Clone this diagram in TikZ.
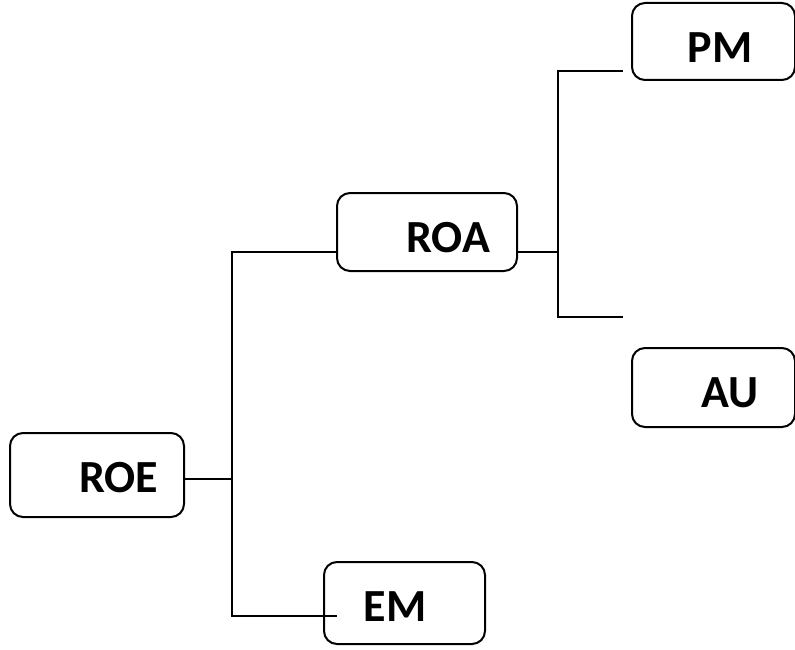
\documentclass[tikz,border=0pt]{standalone}
\usepackage{fontspec}
\setmainfont{Carlito}
\usetikzlibrary{positioning}

\begin{document}
\begin{tikzpicture}[x=1pt, y=-1pt, line width=2pt, box/.style={draw, rounded corners=13pt, inner sep=0pt}, lbl/.style={font=\fontsize{46}{50}\selectfont\bfseries, inner sep=0pt}]
	\useasboundingbox (0,0) rectangle (795,650);
	\draw (97.0, 475.0)node[box, minimum width=174pt, minimum height=84pt, label={[lbl, xshift=21.5pt, yshift=-2.5pt]center:ROE}](roe){};
	\draw (427.0, 232.0)node[box, minimum width=180pt, minimum height=78pt, label={[lbl, xshift=21pt, yshift=-6pt]center:ROA}](roa){};
	\draw (713.5, 41.5)node[box, minimum width=163pt, minimum height=77pt, label={[lbl, xshift=6.5pt, yshift=-6.5pt]center:PM}](pm){};
	\draw (713.5, 387.5)node[box, minimum width=163pt, minimum height=79pt, label={[lbl, xshift=16.5pt, yshift=-5.5pt]center:AU}](au){};
	\draw (404.5, 603.0)node[box, minimum width=161pt, minimum height=82pt, label={[lbl, xshift=-9.5pt, yshift=-4pt]center:EM}](em){};
	% forks
	\coordinate (fork1) at (232, 479);
	\coordinate (fork2) at (558, 252);
	\coordinate (pmEnd) at (623, 71);
	\coordinate (auEnd) at (623, 317);
	\coordinate (emEnd) at (337, 616);
	\draw (roe.east |- fork1) -- (fork1);
	\draw (roa.west |- fork2) -| (emEnd -| fork1) -- (emEnd);
	\draw (roa.east |- fork2) -- (fork2);
	\draw (pmEnd) -| (auEnd -| fork2) -- (auEnd);
\end{tikzpicture}
\end{document}
